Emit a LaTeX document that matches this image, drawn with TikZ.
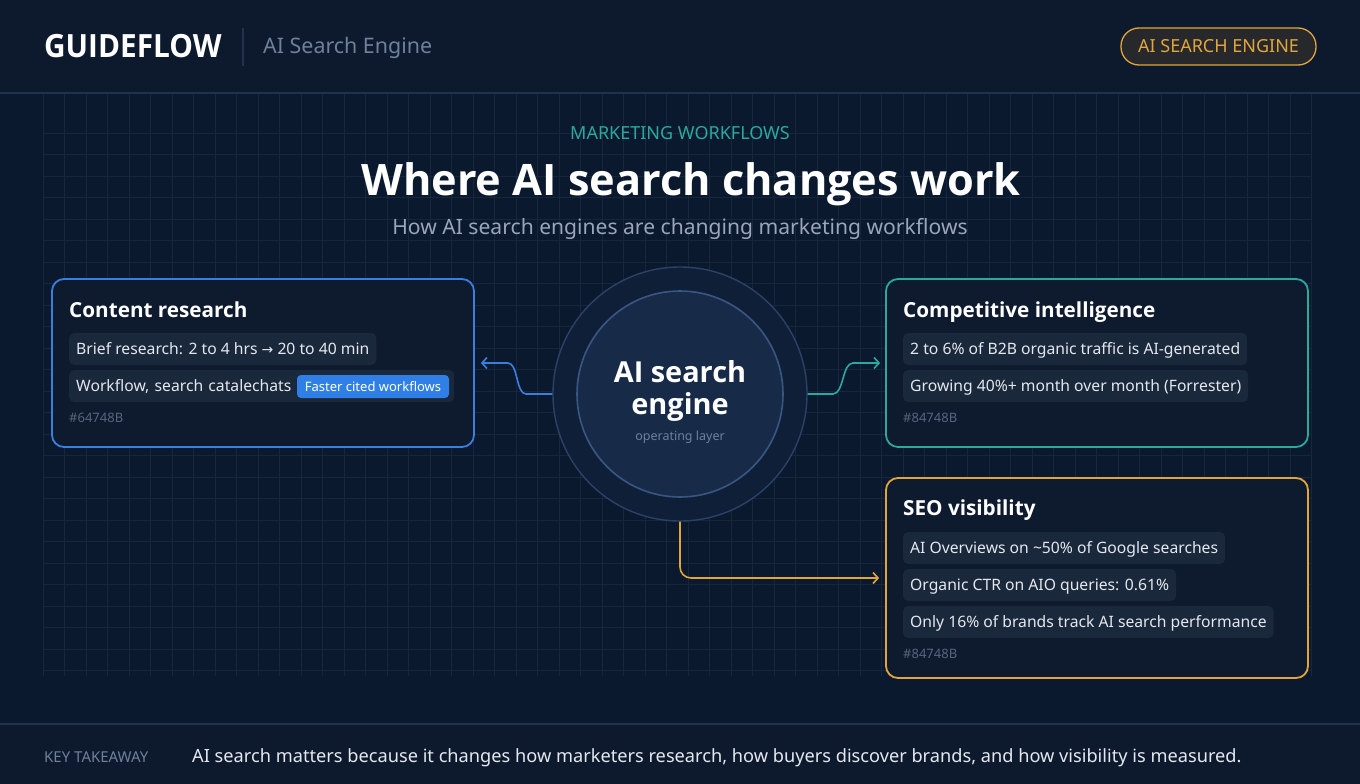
\documentclass[tikz,border=0pt]{standalone}
\usepackage{fontspec}
\setmainfont{Noto Sans}
\newfontfamily\headfont{Open Sans}
\newfontfamily\symfont{DejaVu Sans}
\usetikzlibrary{positioning, arrows.meta}

\definecolor{bgmain}{HTML}{0B192E}
\definecolor{bghead}{HTML}{0D1A2D}
\definecolor{gridline}{HTML}{15263D}
\definecolor{rule}{HTML}{1F3250}
\definecolor{cardfill}{HTML}{0E1B2F}
\definecolor{chipfill}{HTML}{1A283B}
\definecolor{chiptext}{HTML}{E4E8EE}
\definecolor{blueline}{HTML}{3B7EE0}
\definecolor{tealline}{HTML}{2AA99C}
\definecolor{amberline}{HTML}{E2A53C}
\definecolor{badgeblue}{HTML}{2F7FE6}
\definecolor{hashgray}{HTML}{56657C}
\definecolor{subgray}{HTML}{9AA5B8}
\definecolor{headgray}{HTML}{6F809B}
\definecolor{pillfill}{HTML}{27282C}
\definecolor{ringout}{HTML}{2A4266}
\definecolor{ringin}{HTML}{3A5784}
\definecolor{corefill}{HTML}{172A48}
\definecolor{bandfill}{HTML}{0F1F38}

\tikzset{
  cardbox/.style={draw=#1, line width=1.8pt, rounded corners=12pt, fill=cardfill},
  cardtitle/.style={anchor=base west, inner sep=0pt, text=white, font=\headfont\fontsize{20.7}{24}\selectfont\bfseries},
  chip/.style={anchor=west, fill=chipfill, rounded corners=5pt, inner xsep=7pt, inner ysep=0pt,
    minimum height=32pt, text height=11pt, text depth=0pt, text=chiptext, font=\fontsize{15.7}{18}\selectfont},
  hashtag/.style={anchor=base west, inner sep=0pt, text=hashgray, font=\fontsize{13}{15}\selectfont},
  link/.style={draw=#1, line width=1.6pt, -{Straight Barb[length=5pt,width=11pt]}},
}

\begin{document}
\begin{tikzpicture}[x=1pt, y=-1pt]
  \useasboundingbox (0,0) rectangle (1360,784);
  % Background
  \fill[bgmain] (0,0) rectangle (1360,784);
  \fill[bghead] (0,0) rectangle (1360,93);
  \fill[bghead] (0,724) rectangle (1360,784);
  % Grid
  \foreach \i in {0,...,59}
    \draw[gridline, line width=0.8pt] (43+\i*21.5,94) -- (43+\i*21.5,676);
  \foreach \j in {0,...,25}
    \draw[gridline, line width=0.8pt] (43,133+\j*21.5) -- (1312,133+\j*21.5);
  \draw[rule, line width=1.6pt] (0,93) -- (1360,93);
  \draw[rule, line width=1.6pt] (0,724) -- (1360,724);

  % Header
  \node[anchor=base west, inner sep=0pt, text=white] (brand) at (44,58)
    {\scalebox{0.93}[1]{\headfont\fontsize{32}{36}\selectfont\bfseries GUIDEFLOW}};
  \draw[rule, line width=1.2pt] (243,28) -- (243,66);
  \node[anchor=base west, inner sep=0pt, text=headgray, font=\fontsize{21.4}{24}\selectfont] (product) at (263,54) {AI Search Engine};
  \node[draw=amberline, fill=pillfill, line width=1.3pt, rounded corners=18pt, minimum width=195pt, minimum height=37pt,
    text=amberline, font=\fontsize{18}{20}\selectfont] (pill) at (1218.5,46.5) {AI SEARCH ENGINE};

  % Headings
  \node[anchor=base, inner sep=0pt, text=tealline, font=\fontsize{18}{20}\selectfont] (kicker) at (680,139) {MARKETING WORKFLOWS};
  \node[anchor=base, inner sep=0pt, text=white, font=\headfont\fontsize{43.3}{48}\selectfont\bfseries] (title) at (691,195) {Where AI search changes work};
  \node[anchor=base, inner sep=0pt, text=subgray, font=\fontsize{21.1}{24}\selectfont] (subtitle) at (680,234) {How AI search engines are changing marketing workflows};

  % Cards
  \node[cardbox=blueline, minimum width=422pt, minimum height=168pt] (research) at (263,363) {};
  \node[cardbox=tealline, minimum width=422pt, minimum height=168pt] (intel) at (1097,363) {};
  \node[cardbox=amberline, minimum width=422pt, minimum height=200pt] (seo) at (1097,578) {};

  % Content research
  \node[cardtitle] (researchtitle) at (69,317) {Content research};
  \node[chip] (brief) at (69,349) {Brief research: 2 to 4 hrs {\symfont\fontsize{14}{18}\selectfont →} 20 to 40 min};
  \node[chip, text width=371pt, align=left] (workflow) at (69,386) {Workflow, search catalechats};
  \node[fill=badgeblue, rounded corners=4pt, minimum width=152pt, minimum height=23pt, inner sep=0pt,
    text=white, font=\fontsize{13}{15}\selectfont] (badge) at (373,386.5) {Faster cited workflows};
  \node[hashtag] at (69,422) {\#64748B};

  % Competitive intelligence
  \node[cardtitle] (inteltitle) at (903,317) {Competitive intelligence};
  \node[chip] (traffic) at (903,349) {2 to 6\% of B2B organic traffic is AI-generated};
  \node[chip] (growth) at (903,386) {Growing 40\%+ month over month (Forrester)};
  \node[hashtag] at (903,422) {\#84748B};

  % SEO visibility
  \node[cardtitle] (seotitle) at (903,515) {SEO visibility};
  \node[chip] (overviews) at (903,548) {AI Overviews on \textasciitilde50\% of Google searches};
  \node[chip] (ctr) at (903,585) {Organic CTR on AIO queries: 0.61\%};
  \node[chip] (track) at (903,622) {Only 16\% of brands track AI search performance};
  \node[hashtag] at (903,658) {\#84748B};

  % Engine
  \node[circle, draw=ringout, line width=1.4pt, fill=bandfill, minimum size=254pt] (engine) at (680,394) {};
  \node[circle, draw=ringin, line width=1.6pt, fill=corefill, minimum size=206pt] (core) at (680,394) {};
  \node[anchor=base, inner sep=0pt, text=white, font=\headfont\fontsize{28.9}{32}\selectfont\bfseries] at (680,382) {AI search};
  \node[anchor=base, inner sep=0pt, text=white, font=\headfont\fontsize{28.9}{32}\selectfont\bfseries] at (680,414) {engine};
  \node[anchor=base, inner sep=0pt, text=headgray, font=\fontsize{12.5}{15}\selectfont] at (680,440) {operating layer};

  % Connectors
  \draw[link=blueline] (engine.west) -- (526,394) .. controls (516,394) and (518,363) .. (508,363) -- ([xshift=6pt]research.east);
  \draw[link=tealline] (engine.east) -- (833,394) .. controls (844,394) and (842,363) .. (853,363) -- ([xshift=-5pt]intel.west);
  \draw[link=amberline, rounded corners=11pt] (engine.south) |- ([xshift=-6pt]seo.west);

  % Footer
  \node[anchor=base west, inner sep=0pt, text=headgray, font=\fontsize{15}{18}\selectfont] (keylabel) at (44,762) {KEY TAKEAWAY};
  \node[anchor=base west, inner sep=0pt, text=chiptext, font=\fontsize{18.2}{20}\selectfont] (takeaway) at (192,762)
    {AI search matters because it changes how marketers research, how buyers discover brands, and how visibility is measured.};
\end{tikzpicture}
\end{document}
